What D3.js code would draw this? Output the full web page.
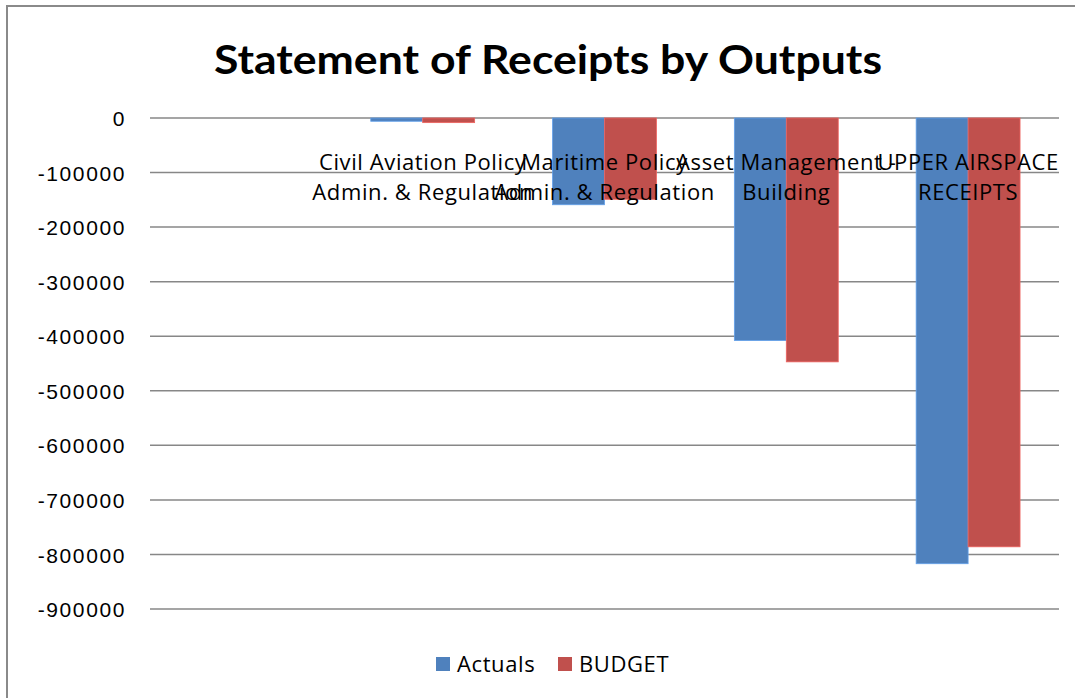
<!DOCTYPE html>
<html>
<head>
<meta charset="utf-8">
<script src="https://cdn.jsdelivr.net/npm/d3@7"></script>
<style>
  body { margin: 0; background: #fff; }
  text { fill: #000; }
</style>
</head>
<body>
<div id="chart"></div>
<script>
// data
const categories = ["", "Civil Aviation Policy Admin. & Regulation", "Maritime Policy Admin. & Regulation", "Asset Management - Building", "UPPER AIRSPACE RECEIPTS"];
const categoryLines = [[""], ["Civil Aviation Policy", "Admin. & Regulation"], ["Maritime Policy", "Admin. & Regulation"], ["Asset Management -", "Building"], ["UPPER AIRSPACE", "RECEIPTS"]];
const seriesNames = ["Actuals", "BUDGET"];
const actuals = [0, -6000, -159000, -408000, -817000];
const budget = [0, -8500, -149000, -447000, -786000];
const yTicks = [0, -100000, -200000, -300000, -400000, -500000, -600000, -700000, -800000, -900000];
const colors = ["#4f81bd", "#c0504d"];

const W = 1075, H = 698;
const margin = { top: 118, left: 150, right: 16, bottom: 89 };
const width = W - margin.left - margin.right;
const height = H - margin.top - margin.bottom;

const svg = d3.select("#chart").append("svg")
  .attr("width", W)
  .attr("height", H);

// outer frame
svg.append("rect")
  .attr("x", 7).attr("y", 6)
  .attr("width", W + 20).attr("height", H + 20)
  .attr("fill", "#fff")
  .attr("stroke", "#8a8a8a")
  .attr("stroke-width", 2);

svg.append("text")
  .attr("x", 548)
  .attr("y", 74)
  .attr("text-anchor", "middle")
  .attr("textLength", 668)
  .attr("lengthAdjust", "spacingAndGlyphs")
  .style("font-family", "Lato, 'Open Sans', sans-serif")
  .style("font-weight", "bold")
  .style("font-size", "41px")
  .text("Statement of Receipts by Outputs");

const g = svg.append("g")
  .attr("transform", `translate(${margin.left}, ${margin.top})`);

const x0 = d3.scaleBand()
  .domain(categories)
  .range([0, width]);

const x1 = d3.scaleBand()
  .domain(seriesNames)
  .range([0, x0.bandwidth() * 2 / 3.5]);

const y = d3.scaleLinear()
  .domain([0, -900000])
  .range([0, 491]);

// gridlines
g.append("g")
  .selectAll("line")
  .data(yTicks)
  .join("line")
  .attr("x1", 0)
  .attr("x2", width)
  .attr("y1", d => y(d))
  .attr("y2", d => y(d))
  .attr("stroke", "#878787")
  .attr("stroke-width", 1.5);

// y axis labels
const yAxis = d3.axisLeft(y)
  .tickValues(yTicks)
  .tickFormat(d => d === 0 ? "0" : "-" + Math.abs(d))
  .tickSize(0)
  .tickPadding(24);

g.append("g")
  .call(yAxis)
  .call(a => a.select(".domain").remove())
  .selectAll("text")
  .attr("dy", "0.36em")
  .style("font-family", "'Liberation Sans', Arial, sans-serif")
  .style("font-size", "21px")
  .style("letter-spacing", "1.6px")
  .style("fill", "#000");

// bars
const rows = categories.map((c, i) => ({ cat: c, values: [actuals[i], budget[i]] }));
const offset = (x0.bandwidth() - x1.range()[1]) / 2;

g.append("g")
  .selectAll("g")
  .data(rows)
  .join("g")
  .attr("transform", d => `translate(${x0(d.cat) + offset}, 0)`)
  .selectAll("rect")
  .data(d => d.values.map((v, j) => ({ key: seriesNames[j], v: v, j: j })))
  .join("rect")
  .attr("x", d => x1(d.key))
  .attr("y", d => y(Math.max(0, d.v)))
  .attr("width", x1.bandwidth())
  .attr("height", d => Math.abs(y(d.v) - y(0)))
  .attr("fill", d => colors[d.j])
  .attr("stroke", d => d3.color(colors[d.j]).brighter(0.6))
  .attr("stroke-width", 0.8);

// category labels, drawn over the bars
const lbl = g.append("g")
  .selectAll("text")
  .data(categories)
  .join("text")
  .attr("x", d => x0(d) + x0.bandwidth() / 2)
  .attr("y", 52)
  .attr("text-anchor", "middle")
  .style("font-family", "'Open Sans', sans-serif")
  .style("font-size", "22px")
  .style("letter-spacing", "0.6px");

lbl.selectAll("tspan")
  .data((d, i) => categoryLines[i])
  .join("tspan")
  .attr("x", function () { return d3.select(this.parentNode).attr("x"); })
  .attr("dy", (d, i) => i === 0 ? 0 : 30)
  .text(d => d);

// legend
const legend = svg.append("g")
  .selectAll("g")
  .data(seriesNames)
  .join("g")
  .attr("transform", (d, i) => `translate(${i === 0 ? 436 : 558}, 657)`);

legend.append("rect")
  .attr("width", 14)
  .attr("height", 14)
  .attr("fill", (d, i) => colors[i]);

legend.append("text")
  .attr("x", 21)
  .attr("y", 15)
  .style("font-family", "'Open Sans', sans-serif")
  .style("font-size", "22px")
  .style("letter-spacing", "0.6px")
  .text(d => d);
</script>
</body>
</html>
